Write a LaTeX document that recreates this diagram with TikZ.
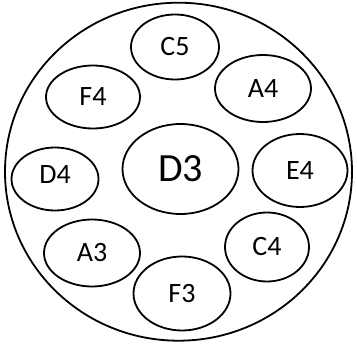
\documentclass[tikz,border=0pt]{standalone}
\usepackage{fontspec}
\setmainfont{Carlito}
\usetikzlibrary{shapes.geometric}
\begin{document}
\begin{tikzpicture}[x=1pt,y=-1pt,
  note/.style={ellipse,draw,line width=1.8pt,inner sep=0pt,font=\fontsize{28}{28}\selectfont},
  bignote/.style={note,font=\fontsize{40}{40}\selectfont}]
\useasboundingbox (0,0) rectangle (357,348);
\node[ellipse,draw,line width=1.8pt,minimum width=347pt,minimum height=338pt,inner sep=0pt] (outer) at (178.5,171.7) {};
\node[note,minimum width=88pt,minimum height=65pt] (c5) at (175,47) {C5};
\node[note,minimum width=94pt,minimum height=63pt] (f4) at (93,97) {F4};
\node[note,minimum width=96pt,minimum height=67pt] (a4) at (263,88.5) {A4};
\node[bignote,minimum width=116pt,minimum height=90pt] (d3) at (180.5,169) {D3};
\node[note,minimum width=87pt,minimum height=63pt,
  label={[font=\fontsize{28}{28}\selectfont,yshift=4pt]center:D4}] (d4) at (55,179) {};
\node[note,minimum width=95pt,minimum height=73pt] (e4) at (300,170.5) {E4};
\node[note,minimum width=97pt,minimum height=74pt] (f3) at (182,293.5) {F3};
\node[note,minimum width=96pt,minimum height=67pt] (a3) at (92,253) {A3};
\node[note,minimum width=84pt,minimum height=69pt] (c4) at (267,247) {C4};
\end{tikzpicture}
\end{document}
